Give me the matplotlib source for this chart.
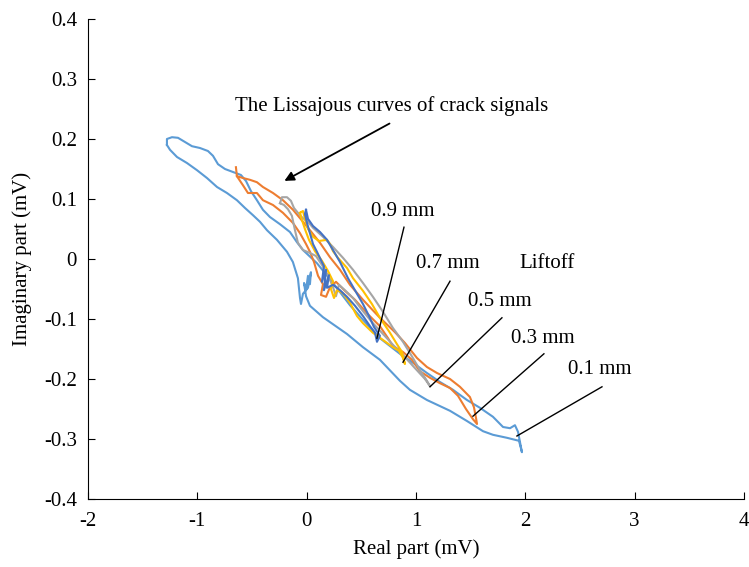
import matplotlib
matplotlib.use("Agg")
import matplotlib.pyplot as plt

plt.rcParams['font.family'] = ['Liberation Serif', 'DejaVu Serif']
plt.rcParams['font.size'] = 15
plt.rcParams['axes.unicode_minus'] = False

# Lissajous curves, real part / imaginary part (mV), one per liftoff
re_01 = [-1.278, -1.278, -1.232, -1.177, -1.113, -1.049, -0.976, -0.903, -0.857, -0.811,
         -0.747, -0.674, -0.601, -0.555, -0.509, -0.455, -0.400, -0.336, -0.244, -0.153,
         -0.089, -0.034, 0.094, 0.241, 0.396, 0.533, 0.670, 0.853, 0.972, 1.100,
         1.219, 1.338, 1.466, 1.585, 1.704, 1.796, 1.860, 1.905, 1.933, 1.951,
         1.969, 1.942, 1.832, 1.704, 1.613, 1.466, 1.311, 1.100, 0.944, 0.853,
         0.670, 0.515, 0.369, 0.149, 0.030, -0.006, -0.024, -0.006, 0.012, 0.030,
         0.039, 0.012, -0.034, -0.052, -0.061, -0.080, -0.126, -0.180, -0.272, -0.363,
         -0.427, -0.491, -0.564, -0.638, -0.729, -0.820, -0.912, -1.003, -1.095, -1.186,
         -1.250, -1.278]
im_01 = [0.190, 0.200, 0.203, 0.202, 0.195, 0.188, 0.185, 0.180, 0.172, 0.158,
         0.150, 0.145, 0.140, 0.130, 0.113, 0.098, 0.082, 0.070, 0.058, 0.045,
         0.028, 0.015, -0.007, -0.040, -0.077, -0.105, -0.132, -0.158, -0.173, -0.190,
         -0.205, -0.218, -0.235, -0.248, -0.263, -0.280, -0.282, -0.277, -0.288, -0.305,
         -0.322, -0.303, -0.298, -0.293, -0.287, -0.270, -0.253, -0.235, -0.218, -0.203,
         -0.168, -0.147, -0.125, -0.097, -0.078, -0.062, -0.040, -0.052, -0.028, -0.042,
         -0.022, -0.048, -0.058, -0.075, -0.065, -0.032, -0.005, 0.012, 0.032, 0.048,
         0.062, 0.073, 0.085, 0.098, 0.110, 0.120, 0.135, 0.148, 0.160, 0.170,
         0.182, 0.190]

re_03 = [-0.647, -0.638, -0.583, -0.519, -0.455, -0.400, -0.308, -0.217, -0.125, -0.061,
         0.030, 0.122, 0.213, 0.305, 0.396, 0.515, 0.670, 0.808, 0.899, 1.009,
         1.100, 1.192, 1.311, 1.402, 1.493, 1.530, 1.549, 1.558, 1.521, 1.457,
         1.384, 1.311, 1.219, 1.128, 1.036, 0.963, 0.881, 0.789, 0.744, 0.670,
         0.560, 0.442, 0.350, 0.268, 0.213, 0.177, 0.131, 0.149, 0.104, 0.067,
         0.030, -0.006, -0.061, -0.125, -0.217, -0.308, -0.400, -0.455, -0.537, -0.583,
         -0.638]
im_03 = [0.153, 0.138, 0.135, 0.132, 0.128, 0.120, 0.110, 0.098, 0.082, 0.068,
         0.048, 0.027, 0.003, -0.018, -0.043, -0.068, -0.098, -0.122, -0.140, -0.165,
         -0.180, -0.190, -0.200, -0.213, -0.230, -0.247, -0.265, -0.275, -0.267, -0.250,
         -0.228, -0.215, -0.207, -0.198, -0.187, -0.168, -0.155, -0.145, -0.132, -0.112,
         -0.092, -0.068, -0.053, -0.038, -0.047, -0.063, -0.060, -0.042, -0.028, -0.005,
         0.012, 0.025, 0.043, 0.060, 0.077, 0.090, 0.098, 0.110, 0.110, 0.123,
         0.138]

re_05 = [-0.244, -0.226, -0.180, -0.144, -0.116, -0.080, -0.034, 0.012, 0.058, 0.149,
         0.241, 0.332, 0.424, 0.515, 0.606, 0.698, 0.789, 0.881, 0.972, 1.036,
         1.100, 1.128, 1.082, 0.981, 0.881, 0.789, 0.698, 0.606, 0.515, 0.424,
         0.350, 0.295, 0.268, 0.241, 0.195, 0.140, 0.085, 0.030, -0.034, -0.080,
         -0.107, -0.135, -0.171, -0.208, -0.244]
im_05 = [0.093, 0.103, 0.103, 0.097, 0.085, 0.077, 0.068, 0.062, 0.052, 0.037,
         0.020, 0.002, -0.018, -0.040, -0.063, -0.088, -0.115, -0.138, -0.165, -0.185,
         -0.203, -0.212, -0.200, -0.180, -0.160, -0.143, -0.125, -0.107, -0.087, -0.065,
         -0.052, -0.043, -0.062, -0.047, -0.027, -0.010, 0.005, 0.010, 0.015, 0.027,
         0.048, 0.072, 0.083, 0.090, 0.093]

re_07 = [-0.061, -0.034, -0.016, 0.012, 0.058, 0.113, 0.186, 0.213, 0.241, 0.286,
         0.369, 0.424, 0.515, 0.597, 0.670, 0.762, 0.826, 0.872, 0.899, 0.881,
         0.844, 0.789, 0.698, 0.606, 0.515, 0.460, 0.396, 0.332, 0.277, 0.250,
         0.222, 0.241, 0.195, 0.140, 0.076, 0.021, -0.016, -0.043, -0.061]
im_07 = [0.077, 0.080, 0.067, 0.050, 0.037, 0.030, 0.032, 0.025, 0.013, 0.002,
         -0.015, -0.032, -0.053, -0.075, -0.098, -0.123, -0.142, -0.155, -0.175, -0.165,
         -0.153, -0.147, -0.135, -0.123, -0.107, -0.095, -0.073, -0.057, -0.052, -0.065,
         -0.050, -0.037, -0.020, -0.003, 0.013, 0.032, 0.050, 0.065, 0.077]

re_09 = [-0.006, -0.016, 0.003, 0.030, 0.058, 0.094, 0.131, 0.158, 0.140, 0.177,
         0.158, 0.204, 0.186, 0.241, 0.305, 0.369, 0.442, 0.515, 0.579, 0.625,
         0.643, 0.670, 0.615, 0.570, 0.515, 0.451, 0.378, 0.305, 0.241, 0.186,
         0.122, 0.058, 0.012, -0.006]
im_09 = [0.082, 0.075, 0.060, 0.043, 0.025, 0.012, -0.002, -0.012, -0.038, -0.018,
         -0.052, -0.027, -0.048, -0.043, -0.052, -0.063, -0.078, -0.095, -0.112, -0.123,
         -0.138, -0.128, -0.113, -0.095, -0.075, -0.055, -0.032, -0.005, 0.015, 0.032,
         0.045, 0.055, 0.067, 0.082]

series = [
    (re_01, im_01, '#5B9BD5'),
    (re_03, im_03, '#ED7D31'),
    (re_05, im_05, '#A5A5A5'),
    (re_07, im_07, '#FFC000'),
    (re_09, im_09, '#4472C4'),
]

# liftoff labels: text position, line start, line end (data units)
labels = ['0.9 mm', '0.7 mm', '0.5 mm', '0.3 mm', '0.1 mm']
label_xy = [(0.881, 0.080), (1.292, -0.008), (1.768, -0.070), (2.161, -0.132), (2.683, -0.185)]
line_from = [(0.890, 0.053), (1.311, -0.037), (1.786, -0.098), (2.170, -0.158), (2.701, -0.213)]
line_to = [(0.643, -0.132), (0.881, -0.172), (1.128, -0.213), (1.521, -0.262), (1.923, -0.295)]

fig = plt.figure(figsize=(7.49, 5.67), dpi=100)
ax = fig.add_axes([88/749, 68/567, 656/749, 480/567])

for x, y, c in series:
    ax.plot(x, y, color=c, lw=1.5, solid_joinstyle='round')

ax.set_xlim(-2, 4)
ax.set_ylim(-0.4, 0.4)
ax.set_xticks(range(-2, 5))
ax.set_yticks([-0.4, -0.3, -0.2, -0.1, 0, 0.1, 0.2, 0.3, 0.4])
ax.set_yticklabels(['-0.4', '-0.3', '-0.2', '-0.1', '0', '0.1', '0.2', '0.3', '0.4'])
ax.spines['top'].set_visible(False)
ax.spines['right'].set_visible(False)
ax.tick_params(direction='in', length=5, width=0.8)
ax.tick_params(axis='y', pad=8)
ax.tick_params(axis='x', pad=9)

ax.set_xlabel('Real part (mV)')
ax.set_ylabel('Imaginary part (mV)')
ax.xaxis.set_label_coords(0.5, -0.083)
ax.yaxis.set_label_coords(-0.086, 0.5)

ax.annotate('', xy=(-0.226, 0.128), xytext=(0.780, 0.228),
            arrowprops=dict(arrowstyle='-|>', color='black', lw=1.3, mutation_scale=14))
ax.text(0.774, 0.255, 'The Lissajous curves of crack signals', ha='center', va='center')

for lab, (tx, ty), (x0, y0), (x1, y1) in zip(labels, label_xy, line_from, line_to):
    ax.text(tx, ty, lab, ha='center', va='center')
    ax.plot([x0, x1], [y0, y1], color='black', lw=1.0)

ax.text(2.198, -0.008, 'Liftoff', ha='center', va='center')

fig.savefig('out.png', dpi=100)
